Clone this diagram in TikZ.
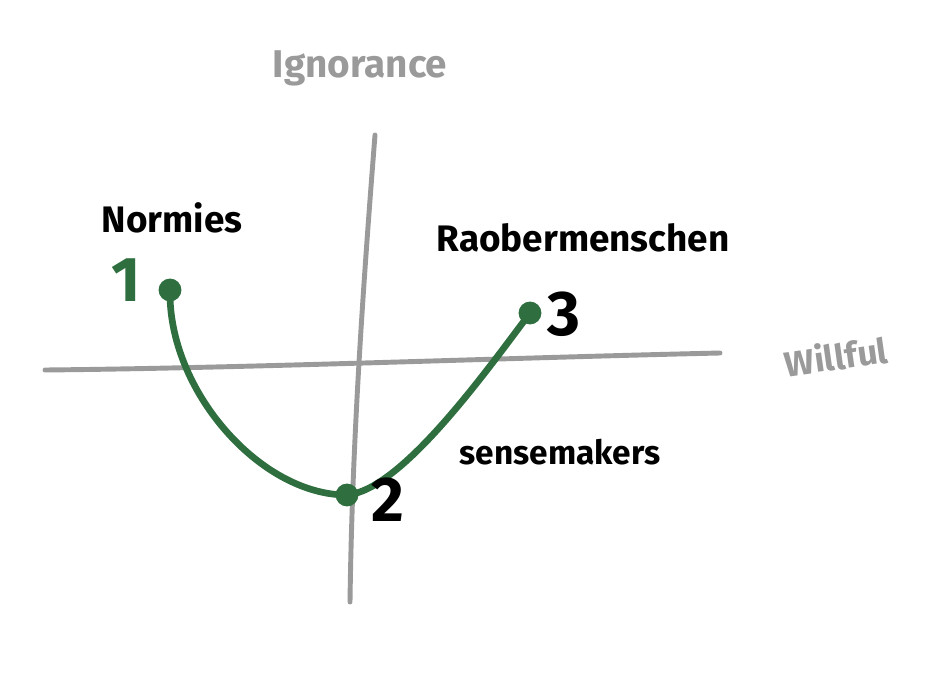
\documentclass[tikz,border=0pt]{standalone}
\usepackage{fontspec}
\setmainfont{Fira Sans}
\usepackage{xcolor}
\definecolor{sketchgreen}{HTML}{2F6F3F}
\definecolor{axisgray}{HTML}{9A9A9A}

\begin{document}
\begin{tikzpicture}[%
  x=0.02cm, y=-0.02cm,
  axis/.style={draw=axisgray, line width=2.8pt, line cap=round},
  curve/.style={draw=sketchgreen, line width=3.8pt, line cap=round},
  dot/.style={circle, fill=sketchgreen, inner sep=0pt, minimum size=13pt},
  label/.style={font=\bfseries\fontsize{21}{25}\selectfont},
  axislabel/.style={font=\bfseries\fontsize{22}{26}\selectfont, text=axisgray},
  num/.style={font=\bfseries\fontsize{36}{40}\selectfont}]
  \useasboundingbox (0,0) rectangle (925,672);

  % axes
  \coordinate (ytop) at (375,135);
  \coordinate (ybot) at (350,602);
  \coordinate (xleft) at (45,370);
  \coordinate (xright) at (720,353);
  \draw[axis] (ytop) .. controls (362,300) and (352,450) .. (ybot);
  \draw[axis] (xleft) .. controls (250,368) and (500,358) .. (xright);
  \node[axislabel] (ignorance) at (360,68) {Ignorance};
  \node[axislabel, rotate=8, font=\bfseries\fontsize{20}{24}\selectfont] (willful) at (836,356) {Willful};

  % path through the three points
  \node[dot] (p1) at (170,290) {};
  \node[dot] (p2) at (347,495) {};
  \node[dot] (p3) at (530,313) {};
  \draw[curve] (p1.center) .. controls (168,390) and (260,495) .. (p2.center)
    .. controls (400,490) and (480,380) .. (p3.center);

  % labels
  \node[label] (normies) at (172,218) {Normies};
  \node[num, text=sketchgreen] (one) at (126,280) {1};
  \node[num] (two) at (388,500) {2};
  \node[num] (three) at (564,314) {3};
  \node[label] (raober) at (583,238) {Raobermenschen};
  \node[label, font=\bfseries\fontsize{19}{23}\selectfont] (sense) at (560,452) {sensemakers};
\end{tikzpicture}
\end{document}
